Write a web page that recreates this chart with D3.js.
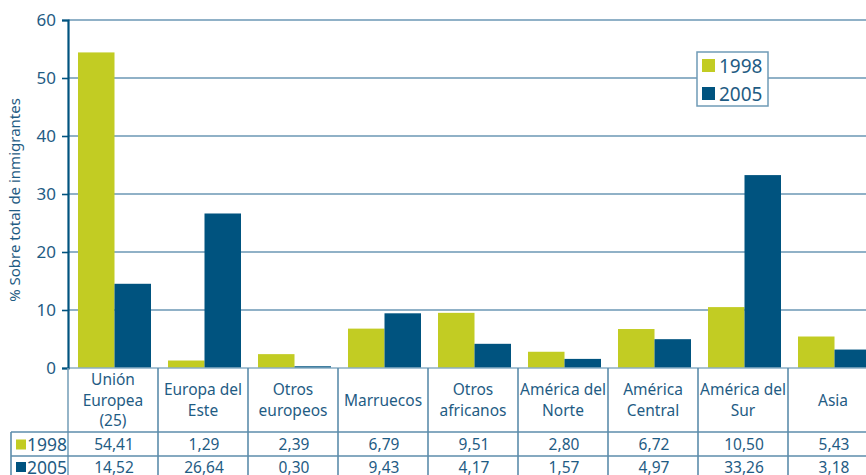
<!DOCTYPE html>
<html>
<head>
<meta charset="utf-8">
<script src="https://cdn.jsdelivr.net/npm/d3@7"></script>
<style>
  html, body { margin: 0; padding: 0; background: #fff; }
  svg { display: block; font-family: "Noto Sans", sans-serif; }
</style>
</head>
<body>
<svg id="chart" width="866" height="475"></svg>
<script>
// Immigrant origin share, 1998 vs 2005
const categories = [
  ["Unión", "Europea", "(25)"],
  ["Europa del", "Este"],
  ["Otros", "europeos"],
  ["Marruecos"],
  ["Otros", "africanos"],
  ["América del", "Norte"],
  ["América", "Central"],
  ["América del", "Sur"],
  ["Asia"]
];
const seriesNames = ["1998", "2005"];
const values1998 = [54.41, 1.29, 2.39, 6.79, 9.51, 2.80, 6.72, 10.50, 5.43];
const values2005 = [14.52, 26.64, 0.30, 9.43, 4.17, 1.57, 4.97, 33.26, 3.18];
const yTicks = [0, 10, 20, 30, 40, 50, 60];
const yTitle = "% Sobre total de inmigrantes";

const colors = { "1998": "#c2cc23", "2005": "#00537f" };
const textColor = "#1f5c84";
const gridColor = "#6b97b4";
const tableLine = "#5c8cab";

const svg = d3.select("#chart");
const keys = categories.map((c, i) => "c" + i);
const series = { "1998": values1998, "2005": values2005 };

const x0 = d3.scaleBand().domain(keys).range([68, 878]).paddingInner(0);
const x1 = d3.scaleBand().domain(seriesNames).range([10, 83]);
const y = d3.scaleLinear().domain([0, 60]).range([368, 20]);

// Horizontal grid
svg.append("g")
  .selectAll("line")
  .data(yTicks.filter(t => t > 0))
  .join("line")
  .attr("x1", 68).attr("x2", 866)
  .attr("y1", d => y(d)).attr("y2", d => y(d))
  .attr("stroke", gridColor).attr("stroke-width", 1.6);

// Bars
const groups = svg.append("g").selectAll("g")
  .data(keys)
  .join("g")
  .attr("transform", d => `translate(${x0(d)},0)`);

groups.selectAll("rect")
  .data((d, i) => seriesNames.map(s => ({ s, v: series[s][i] })))
  .join("rect")
  .attr("x", d => x1(d.s))
  .attr("width", x1.bandwidth())
  .attr("y", d => y(d.v))
  .attr("height", d => y(0) - y(d.v))
  .attr("fill", d => colors[d.s]);

// Baseline
svg.append("line")
  .attr("x1", 68).attr("x2", 866)
  .attr("y1", y(0)).attr("y2", y(0))
  .attr("stroke", "#8aaec4").attr("stroke-width", 1.6);

// Y axis
const yAxis = d3.axisLeft(y).tickValues(yTicks).tickSize(6).tickPadding(6);
const gy = svg.append("g").attr("transform", "translate(68,0)").call(yAxis);
gy.select(".domain").attr("stroke", "#00537f").attr("stroke-width", 2.2);
gy.selectAll(".tick line").attr("stroke", "#00537f").attr("stroke-width", 1.6);
gy.selectAll(".tick text")
  .attr("fill", textColor)
  .style("font-size", "17px")
  .style("font-family", "'Noto Sans', sans-serif");

// Y axis title
svg.append("text")
  .attr("transform", `translate(20,${(y(0) + y(60)) / 2 + 6}) rotate(-90)`)
  .attr("text-anchor", "middle")
  .attr("fill", textColor)
  .style("font-size", "15px")
  .text(yTitle);

// Legend
const legend = svg.append("g").attr("transform", "translate(697,52)");
legend.append("rect")
  .attr("width", 71).attr("height", 54)
  .attr("fill", "#fff").attr("stroke", "#6f9bb6").attr("stroke-width", 1.5);
seriesNames.forEach((s, i) => {
  legend.append("rect")
    .attr("x", 5).attr("y", 7 + i * 28)
    .attr("width", 13).attr("height", 13)
    .attr("fill", colors[s]);
  legend.append("text")
    .attr("x", 22).attr("y", 20.5 + i * 28)
    .attr("fill", textColor)
    .style("font-size", "19px")
    .text(s);
});

// Data table below the axis
const table = svg.append("g");
const rowTop = [432, 456];
const tableBottom = 480;

// vertical column separators
table.selectAll("line.col")
  .data(keys.concat(["end"]))
  .join("line")
  .attr("class", "col")
  .attr("x1", (d, i) => i < keys.length ? x0(d) : 878)
  .attr("x2", (d, i) => i < keys.length ? x0(d) : 878)
  .attr("y1", y(0)).attr("y2", tableBottom)
  .attr("stroke", (d, i) => i === 0 ? "#7ba3bb" : tableLine)
  .attr("stroke-width", 1.6);

// left border of row labels
table.append("line")
  .attr("x1", 11).attr("x2", 11)
  .attr("y1", rowTop[0]).attr("y2", tableBottom)
  .attr("stroke", tableLine).attr("stroke-width", 1.6);

// horizontal row lines
table.selectAll("line.row")
  .data(rowTop)
  .join("line")
  .attr("class", "row")
  .attr("x1", 11).attr("x2", 866)
  .attr("y1", d => d).attr("y2", d => d)
  .attr("stroke", tableLine).attr("stroke-width", 1.6);

// category headers
const headerMid = 400;
const lineH = 20.5;
keys.forEach((k, i) => {
  const lines = categories[i];
  const cx = x0(k) + x0.bandwidth() / 2;
  const start = headerMid - (lines.length - 1) * lineH / 2;
  lines.forEach((t, j) => {
    table.append("text")
      .attr("x", cx).attr("y", start + j * lineH + 5.5)
      .attr("text-anchor", "middle")
      .attr("fill", textColor)
      .style("font-size", "15.5px")
      .text(t);
  });
});

// row labels and values
const rowMid = [444.5, 467];
seriesNames.forEach((s, r) => {
  table.append("rect")
    .attr("x", 16).attr("y", rowMid[r] - 5)
    .attr("width", 10).attr("height", 10)
    .attr("fill", colors[s]);
  table.append("text")
    .attr("x", 27).attr("y", rowMid[r] + 6.5)
    .attr("fill", textColor)
    .style("font-size", "17.5px")
    .text(s);
  keys.forEach((k, i) => {
    table.append("text")
      .attr("x", x0(k) + x0.bandwidth() / 2 + 1)
      .attr("y", rowMid[r] + 5.5)
      .attr("text-anchor", "middle")
      .attr("fill", textColor)
      .style("font-size", "15.5px")
      .text(series[s][i].toFixed(2).replace(".", ","));
  });
});
</script>
</body>
</html>
